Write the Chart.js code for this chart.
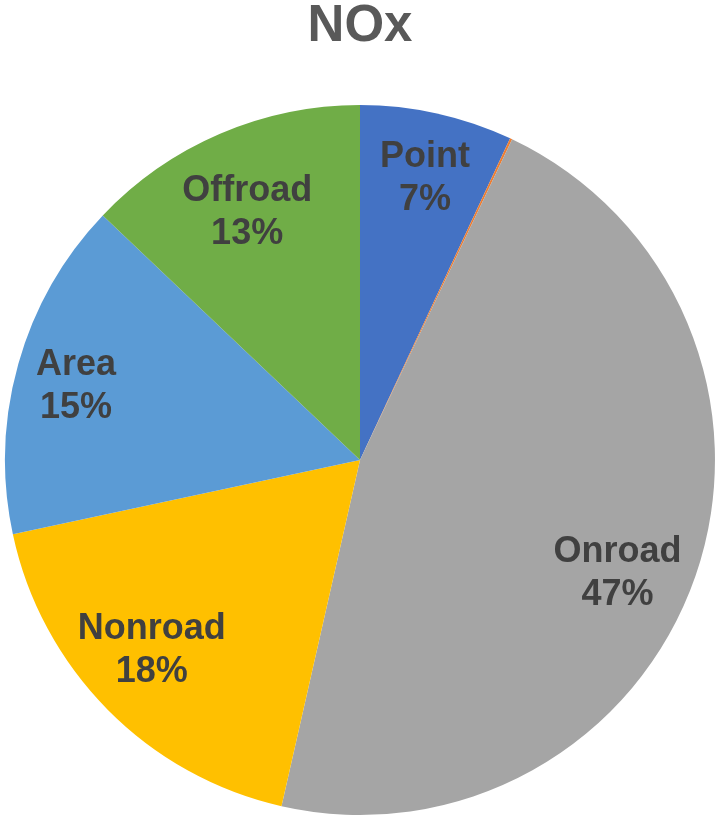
<!DOCTYPE html>
<html lang="en">
<head>
    <meta charset="UTF-8">
    <script src="https://cdn.jsdelivr.net/npm/chart.js"></script>
    <style>
        body, html {
            margin: 0;
            padding: 0;
            background: #ffffff;
        }
        #wrap {
            width: 718px;
            height: 818px;
        }
    </style>
</head>
<body>
    <div id="wrap"><canvas id="chart"></canvas></div>
    <script>
        // data
        const categories = ['Point', 'Other', 'Onroad', 'Nonroad', 'Area', 'Offroad'];
        const shares = [6.95, 0.1, 46.5, 18.1, 15.45, 12.9];
        const percentLabels = ['7%', '', '47%', '18%', '15%', '13%'];
        const colors = ['#4472C4', '#ED7D31', '#A5A5A5', '#FFC000', '#5B9BD5', '#70AD47'];

        // draw "Name / xx%" inside each slice (best-fit style nudges)
        const sliceLabels = {
            id: 'sliceLabels',
            afterDatasetsDraw(chart, args, opts) {
                const ctx = chart.ctx;
                const meta = chart.getDatasetMeta(0);
                ctx.save();
                ctx.fillStyle = '#404040';
                ctx.font = 'bold 36px "Liberation Sans", Arial, sans-serif';
                ctx.textAlign = 'center';
                ctx.textBaseline = 'middle';
                meta.data.forEach((arc, i) => {
                    if (!percentLabels[i]) return;
                    const p = arc.getProps(['x', 'y', 'startAngle', 'endAngle', 'outerRadius'], true);
                    const mid = (p.startAngle + p.endAngle) / 2 + (opts.angleShift[i] || 0) * Math.PI / 180;
                    const r = p.outerRadius * (opts.radius[i] || 0.8);
                    const cx = p.x + Math.cos(mid) * r;
                    const cy = p.y + Math.sin(mid) * r + 2;
                    ctx.fillText(categories[i], cx, cy - 21);
                    ctx.fillText(percentLabels[i], cx, cy + 22);
                });
                ctx.restore();
            }
        };

        new Chart(document.getElementById('chart'), {
            type: 'pie',
            data: {
                labels: categories,
                datasets: [{
                    data: shares,
                    backgroundColor: colors,
                    borderWidth: 0
                }]
            },
            options: {
                responsive: true,
                maintainAspectRatio: false,
                animation: false,
                layout: {
                    padding: { left: 5, right: 3, top: 0, bottom: 3 }
                },
                plugins: {
                    legend: { display: false },
                    tooltip: { enabled: false },
                    title: {
                        display: true,
                        text: 'NOx',
                        color: '#595959',
                        font: { size: 51, weight: 'bold', lineHeight: 1.06, family: '"Liberation Sans", Arial, sans-serif' },
                        padding: { top: 0, bottom: 51 }
                    },
                    sliceLabels: {
                        angleShift: [0.4, 0, 4.2, 2.6, -0.8, -1.1],
                        radius: [0.82, 0.8, 0.79, 0.79, 0.828, 0.772]
                    }
                }
            },
            plugins: [sliceLabels]
        });
    </script>
</body>
</html>
